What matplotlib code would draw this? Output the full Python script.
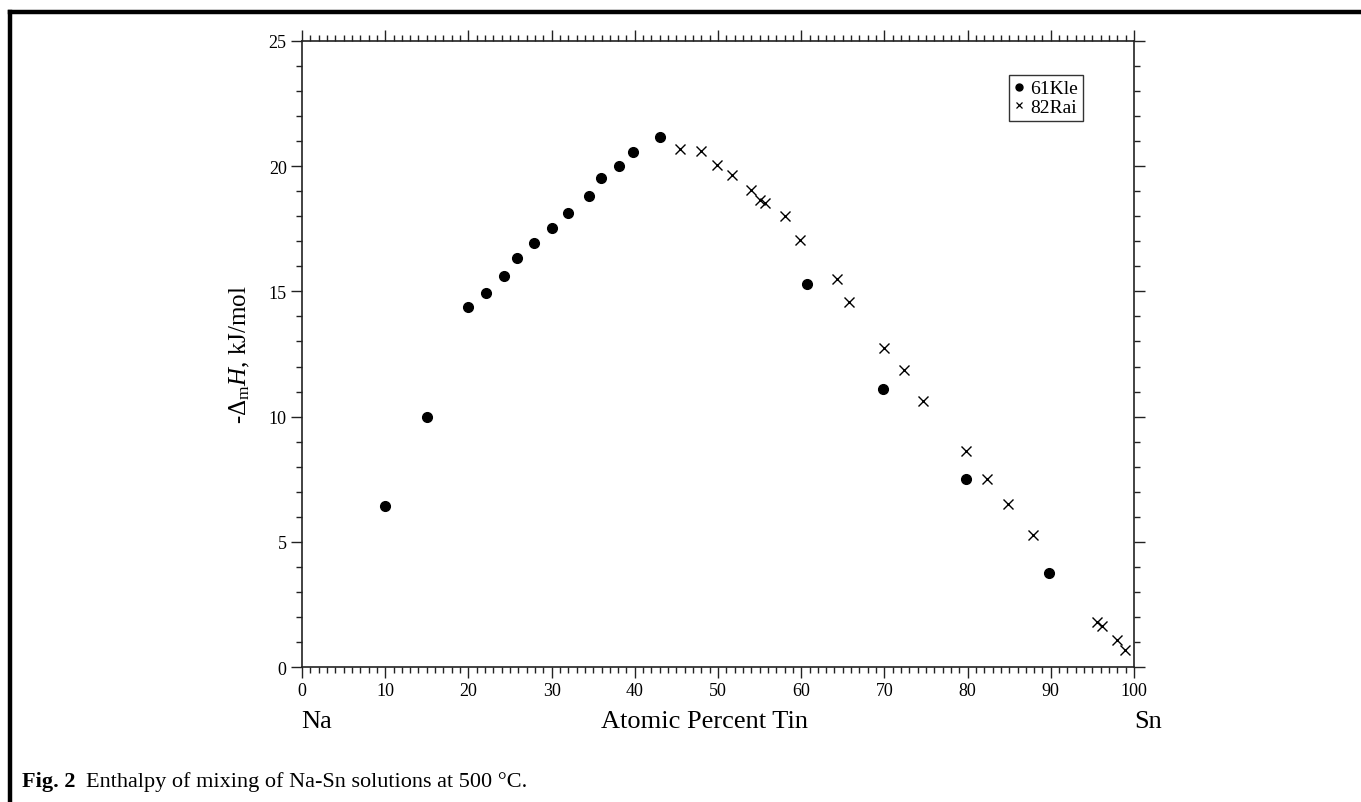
import numpy as np
import matplotlib.pyplot as plt
from matplotlib.ticker import MultipleLocator
from matplotlib.lines import Line2D

plt.rcParams['font.family'] = ['Liberation Serif', 'DejaVu Serif']
plt.rcParams['mathtext.fontset'] = 'custom'
plt.rcParams['mathtext.rm'] = 'Liberation Serif'
plt.rcParams['mathtext.it'] = 'Liberation Serif:italic'

# 61Kle (circles)
kle_x = [10.0, 15.0, 20.0, 22.1, 24.3, 25.8, 27.9, 30.0, 32.0, 34.5, 35.9,
         38.1, 39.8, 43.0, 60.7, 69.8, 79.8, 89.8]
kle_y = [6.45, 10.0, 14.39, 14.94, 15.6, 16.33, 16.92, 17.55, 18.15, 18.81,
         19.53, 20.0, 20.55, 21.15, 15.31, 11.1, 7.5, 3.75]

# 82Rai (crosses)
rai_x = [45.4, 48.0, 49.9, 51.7, 54.0, 55.0, 55.6, 58.0, 59.8, 64.3, 65.8,
         70.0, 72.4, 74.7, 79.8, 82.3, 84.8, 87.9, 95.6, 96.2, 97.9, 98.9]
rai_y = [20.69, 20.62, 20.06, 19.66, 19.05, 18.65, 18.52, 18.01, 17.04, 15.48,
         14.58, 12.73, 11.85, 10.62, 8.63, 7.52, 6.5, 5.28, 1.81, 1.62, 1.09, 0.69]

fig = plt.figure(figsize=(13.61, 8.03), dpi=100)
ax = fig.add_axes([0.2219, 0.1681, 0.8332 - 0.2219, 0.9477 - 0.1681])

ax.plot(kle_x, kle_y, 'o', color='black', ms=7, ls='none')
ax.plot(rai_x, rai_y, 'x', color='black', ms=7, mew=1.0, ls='none')

ax.set_xlim(0, 100)
ax.set_ylim(0, 25)
ax.xaxis.set_major_locator(MultipleLocator(10))
ax.xaxis.set_minor_locator(MultipleLocator(1))
ax.yaxis.set_major_locator(MultipleLocator(5))
ax.yaxis.set_minor_locator(MultipleLocator(1))
ax.tick_params(which='both', direction='out', top=True, right=True,
               labeltop=False, labelright=False, width=1.0, labelsize=13,
               pad=3, color='#222222')
ax.tick_params(which='major', length=8)
ax.tick_params(which='minor', length=4)
for s in ax.spines.values():
    s.set_linewidth(1.2)
    s.set_color('#222222')

ax.set_ylabel(r'-$\Delta_{\rm m}$$H$, kJ/mol', fontsize=18, labelpad=12)

fig.text(317 / 1361, 1 - 722 / 803, 'Na', fontsize=19, ha='center', va='center')
fig.text(705 / 1361, 1 - 722 / 803, 'Atomic Percent Tin', fontsize=19,
         ha='center', va='center')
fig.text(1148 / 1361, 1 - 722 / 803, 'Sn', fontsize=19, ha='center', va='center')

handles = [Line2D([], [], marker='o', color='black', ls='none', ms=5),
           Line2D([], [], marker='x', color='black', ls='none', ms=5, mew=0.9)]
leg = ax.legend(handles, ['61Kle', '82Rai'], loc='upper right',
                bbox_to_anchor=(1083 / 1361, 1 - 76 / 803),
                bbox_transform=fig.transFigure, fontsize=14, frameon=True,
                fancybox=False, edgecolor='black', handlelength=0.5,
                handletextpad=0.35, borderpad=0.25, labelspacing=0.05,
                borderaxespad=0)
leg.get_frame().set_linewidth(1.0)

# caption
fig.text(22 / 1361, 1 - 782 / 803, 'Fig. 2', fontsize=16, fontweight='bold',
         ha='left', va='center')
fig.text(86 / 1361, 1 - 782 / 803,
         'Enthalpy of mixing of Na-Sn solutions at 500 \u00b0C.', fontsize=16,
         ha='left', va='center')

# page frame (top and left rules)
fig.add_artist(Line2D([10 / 1361, 1], [1 - 13 / 803, 1 - 13 / 803],
                      transform=fig.transFigure, color='black', lw=3.2))
fig.add_artist(Line2D([10 / 1361, 10 / 1361], [0, 1 - 13 / 803],
                      transform=fig.transFigure, color='black', lw=3.2,
                      solid_capstyle='projecting'))

fig.savefig('out.png', dpi=100)
